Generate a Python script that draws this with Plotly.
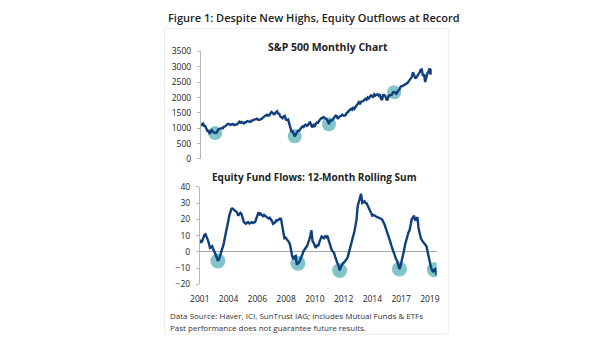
import numpy as np
import plotly.graph_objects as go

# ---------------- data ----------------
# S&P 500 monthly close, Jan 2002 .. Jun 2019
sp500 = [
    1130, 1107, 1147, 1076, 1067, 990, 912, 916, 815, 886, 936, 880,
    856, 841, 848, 917, 964, 975, 990, 1008, 996, 1051, 1058, 1112,
    1131, 1145, 1126, 1107, 1121, 1141, 1102, 1104, 1115, 1130, 1174, 1212,
    1181, 1204, 1181, 1157, 1192, 1191, 1234, 1220, 1229, 1207, 1249, 1248,
    1280, 1281, 1295, 1311, 1270, 1270, 1277, 1304, 1336, 1378, 1401, 1418,
    1438, 1407, 1421, 1482, 1531, 1503, 1455, 1474, 1527, 1549, 1481, 1468,
    1379, 1331, 1323, 1386, 1400, 1280, 1267, 1283, 1165, 969, 896, 903,
    826, 735, 798, 873, 919, 919, 987, 1021, 1057, 1036, 1096, 1115,
    1074, 1104, 1169, 1187, 1089, 1031, 1102, 1049, 1141, 1183, 1181, 1258,
    1286, 1327, 1326, 1364, 1345, 1321, 1292, 1219, 1131, 1253, 1247, 1258,
    1312, 1366, 1408, 1398, 1310, 1362, 1379, 1407, 1441, 1412, 1416, 1426,
    1498, 1515, 1569, 1598, 1631, 1606, 1686, 1633, 1682, 1757, 1806, 1848,
    1783, 1859, 1872, 1884, 1924, 1960, 1931, 2003, 1972, 2018, 2068, 2059,
    1995, 2105, 2068, 2086, 2107, 2063, 2104, 1972, 1920, 2079, 2080, 2044,
    1940, 1932, 2060, 2065, 2097, 2099, 2174, 2171, 2168, 2126, 2199, 2239,
    2279, 2364, 2363, 2384, 2412, 2423, 2470, 2472, 2519, 2575, 2648, 2674,
    2824, 2714, 2641, 2648, 2705, 2718, 2816, 2902, 2914, 2712, 2760, 2507,
    2704, 2784, 2834, 2946, 2752, 2942,
]
sp_highlight_idx = [13, 85, 116, 175]

# Equity fund flows, 12-month rolling sum (monthly)
flows = [
    7.4, 6.0, 6.4, 8.5, 10.4, 10.8, 9.4, 7.5, 5.4, 2.4, 2.8, 3.4,
    1.4, 0.2, -1.6, -3.5, -5.6, -4.6, -2.5, -0.6, 2.0, 4.4, 8.0, 12.4,
    15.5, 18.3, 22.0, 25.3, 26.5, 26.7, 26.0, 25.7, 25.0, 24.3, 22.3, 23.0,
    24.0, 23.3, 21.0, 18.3, 17.8, 17.3, 18.0, 18.3, 17.5, 18.0, 18.3, 17.8,
    18.0, 18.3, 20.3, 22.5, 24.3, 23.0, 23.5, 22.7, 22.0, 22.8, 22.3, 21.5,
    21.3, 20.5, 21.0, 20.3, 19.0, 17.3, 17.8, 18.3, 19.5, 19.3, 19.8, 20.5,
    20.3, 15.3, 11.0, 8.4, 8.8, 8.0, 7.4, 6.0, 4.4, -0.6, -3.0, -4.6,
    -3.0, -2.6, -8.0, -7.0, -6.6, -5.0, -3.6, -1.5, 0.4, 1.8, 2.5, 3.4,
    5.0, 7.4, 10.0, 13.3, 6.4, 5.5, 3.5, 2.4, 4.4, 3.4, 6.0, 7.5,
    9.4, 9.0, 8.4, 9.5, 9.0, 10.0, 7.4, 5.0, 2.4, 1.0, 0.2, -0.6,
    -3.0, -5.6, -7.0, -8.6, -11.5, -9.5, -7.6, -7.0, -6.5, -5.6, -4.5, -3.6,
    -1.0, 1.4, 4.0, 6.4, 9.5, 12.4, 16.0, 20.3, 28.3, 31.0, 34.2, 35.8,
    30.2, 30.8, 31.2, 30.0, 29.9, 28.3, 27.0, 25.3, 24.0, 22.3, 22.8, 22.0,
    21.9, 21.5, 21.3, 20.8, 20.5, 20.3, 19.5, 18.3, 16.5, 14.3, 12.5, 10.5,
    8.4, 6.0, 3.5, 1.4, -1.0, -3.6, -4.5, -5.6, -8.0, -10.6, -8.6, -6.0,
    -3.6, 0.5, 4.4, 7.5, 10.4, 12.0, 13.3, 16.0, 20.3, 21.0, 22.3, 19.3,
    20.5, 21.3, 14.3, 11.0, 8.4, 7.0, 6.0, 5.4, 4.5, 3.4, 0.0, -3.6,
    -7.0, -9.6, -11.5, -12.5, -11.0, -10.6, -14.5,
]
flow_highlight_idx = [16, 87, 124, 177, 208]

x_tick_labels = ["2001", "2004", "2006", "2008", "2010", "2012", "2014", "2017", "2019"]
x_tick_step = 25.5

# ---------------- styling ----------------
W, H = 605, 341
LINE = "#0f3f7d"
CIRCLE = "rgba(75,172,178,0.70)"
FONT = "Open Sans"
TXT = "#222222"
AX = "#b5b5b5"

def px_x(p):
    return p / W

def px_y(p):
    return 1 - p / H

sp_x = list(range(len(sp500)))
fl_x = list(range(len(flows)))

fig = go.Figure()

fig.add_trace(go.Scatter(
    x=[sp_x[i] for i in sp_highlight_idx], y=[sp500[i] for i in sp_highlight_idx],
    mode="markers", marker=dict(size=14, color=CIRCLE, line=dict(width=0)),
    xaxis="x", yaxis="y", showlegend=False, hoverinfo="skip"))
fig.add_trace(go.Scatter(
    x=sp_x, y=sp500, mode="lines", line=dict(color=LINE, width=2.4),
    xaxis="x", yaxis="y", showlegend=False))

fig.add_trace(go.Scatter(
    x=[fl_x[i] for i in flow_highlight_idx], y=[flows[i] for i in flow_highlight_idx],
    mode="markers", marker=dict(size=15, color=CIRCLE, line=dict(width=0)),
    xaxis="x2", yaxis="y2", showlegend=False, hoverinfo="skip"))
fig.add_trace(go.Scatter(
    x=fl_x, y=flows, mode="lines", line=dict(color=LINE, width=2.4),
    xaxis="x2", yaxis="y2", showlegend=False))

tickvals = [k * x_tick_step for k in range(len(x_tick_labels))]

fig.update_layout(
    width=W, height=H,
    margin=dict(l=0, r=0, t=0, b=0),
    paper_bgcolor="white", plot_bgcolor="white",
    font=dict(family=FONT, color=TXT, size=8),
    xaxis=dict(domain=[px_x(195), px_x(431)], range=[0, len(sp500) - 1],
               showgrid=False, zeroline=False, showline=False,
               showticklabels=False, ticks=""),
    yaxis=dict(domain=[px_y(158), px_y(47)], range=[0, 3500],
               tickvals=[0, 500, 1000, 1500, 2000, 2500, 3000, 3500],
               showgrid=False, zeroline=False, showline=True, linecolor=AX,
               linewidth=1, ticks="outside", ticklen=3, tickcolor=AX,
               ticklabelstandoff=4,
               tickfont=dict(size=8.5, color=TXT), anchor="x"),
    xaxis2=dict(domain=[px_x(194), px_x(436)], range=[0, len(flows) - 1],
                showgrid=False, zeroline=False, showline=False,
                tickvals=tickvals, ticktext=x_tick_labels,
                ticks="outside", ticklen=7, tickcolor="rgba(0,0,0,0)",
                tickfont=dict(size=8.5, color=TXT), anchor="y2"),
    yaxis2=dict(domain=[px_y(287.5), px_y(187)], range=[-20, 40],
                tickvals=[-20, -10, 0, 10, 20, 30, 40],
                showgrid=False, zeroline=True, zerolinecolor="#a6a6a6",
                zerolinewidth=1, showline=True, linecolor=AX, linewidth=1,
                ticks="outside", ticklen=3, tickcolor=AX,
                ticklabelstandoff=4,
                tickfont=dict(size=8.5, color=TXT), anchor="x2"),
    shapes=[dict(type="rect", xref="paper", yref="paper",
                 x0=px_x(158), x1=px_x(448), y0=px_y(339), y1=px_y(23),
                 line=dict(color="#ececec", width=1), fillcolor="rgba(0,0,0,0)",
                 layer="below")],
    annotations=[
        dict(text="Figure 1: Despite New Highs, Equity Outflows at Record",
             x=px_x(159), y=px_y(12), xref="paper", yref="paper",
             xanchor="left", yanchor="middle", showarrow=False,
             font=dict(size=11, color=TXT, family=FONT, weight=600)),
        dict(text="<b>S&P 500 Monthly Chart</b>",
             x=px_x(325), y=px_y(42), xref="paper", yref="paper",
             xanchor="center", yanchor="middle", showarrow=False,
             font=dict(size=10.5, color=TXT, family=FONT)),
        dict(text="<b>Equity Fund Flows: 12-Month Rolling Sum</b>",
             x=px_x(311), y=px_y(177), xref="paper", yref="paper",
             xanchor="center", yanchor="middle", showarrow=False,
             font=dict(size=10, color=TXT, family=FONT)),
        dict(text="Data Source: Haver, ICI, SunTrust IAG; includes Mutual Funds & ETFs",
             x=px_x(161), y=px_y(320), xref="paper", yref="paper",
             xanchor="left", yanchor="middle", showarrow=False,
             font=dict(size=8, color="#333333", family=FONT)),
        dict(text="Past performance does not guarantee future results.",
             x=px_x(161), y=px_y(332), xref="paper", yref="paper",
             xanchor="left", yanchor="middle", showarrow=False,
             font=dict(size=8, color="#333333", family=FONT)),
    ],
)

fig.write_html("out.html")
